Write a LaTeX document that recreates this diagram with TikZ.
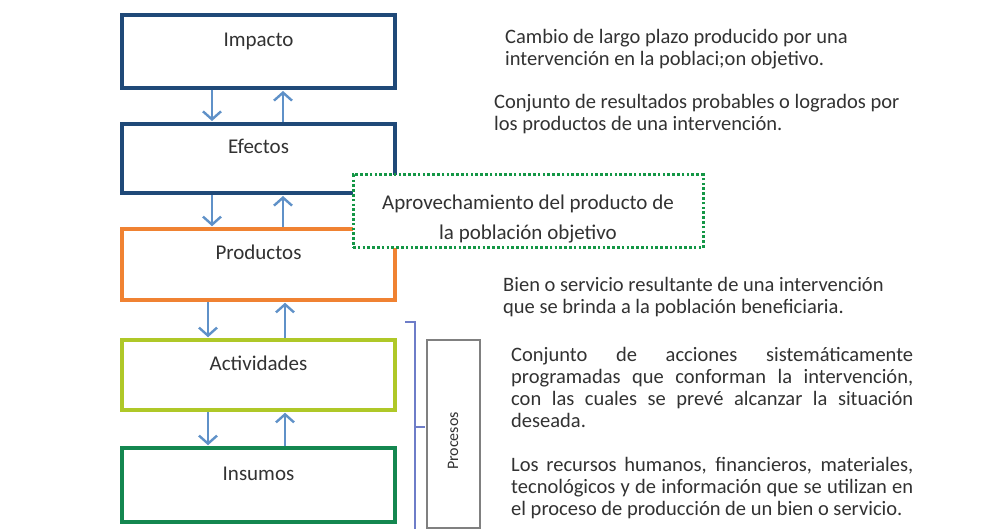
\documentclass[tikz,border=0pt]{standalone}
\usepackage{fontspec}
\setmainfont{Carlito}
\usetikzlibrary{arrows.meta}
\definecolor{navy}{RGB}{31,73,120}
\definecolor{orng}{RGB}{240,130,50}
\definecolor{lime}{RGB}{175,200,40}
\definecolor{grn}{RGB}{20,135,80}
\definecolor{dotgrn}{RGB}{20,150,70}
\definecolor{arrblue}{RGB}{95,145,200}
\definecolor{brk}{RGB}{110,125,200}
\definecolor{txt}{RGB}{50,50,50}
\definecolor{procgray}{RGB}{128,128,128}
\begin{document}
\begin{tikzpicture}[x=1pt,y=-1pt,
  stage/.style={draw, rectangle, fill=white, minimum width=273pt, inner sep=0pt,
    text height=12pt, text depth=22pt, font=\fontsize{21}{22}\selectfont, text=txt},
  arr/.style={draw=arrblue, line width=2.4pt, -{Straight Barb[length=8pt,width=18pt]}, shorten >=1pt},
  desc/.style={anchor=north west, inner sep=0pt, font=\fontsize{20.5}{22}\selectfont, text=txt, align=left},
  jdesc/.style={anchor=north west, inner sep=0pt, font=\fontsize{20.5}{22}\selectfont, text=txt,
    text width=402pt, align=justify},
  note/.style={draw=dotgrn, line width=3pt, dash pattern=on 2.6pt off 2.2pt, fill=white,
    minimum width=350pt, minimum height=73pt, align=center, inner sep=0pt,
    font=\fontsize{21}{30}\selectfont, text=txt}
]
\useasboundingbox[fill=white] (0,0) rectangle (982,529);

% stages
\node[stage, draw=navy, line width=4pt, minimum height=73pt] (imp) at (258.5,51.5) {Impacto};
\node[stage, draw=navy, line width=4pt, minimum height=69pt] (efe) at (258.5,158.5) {Efectos};
\node[stage, draw=orng, line width=3.5pt, minimum height=71pt] (pro) at (258.5,264.5) {Productos};
\node[stage, draw=lime, line width=3.5pt, minimum height=70pt] (act) at (258.5,375) {Actividades};
\node[stage, draw=grn, line width=3.5pt, minimum height=74pt] (ins) at (258.5,485) {Insumos};

% arrow columns
\coordinate (d1) at (212,0);
\coordinate (u1) at (283,0);
\coordinate (d2) at (208,0);
\coordinate (u2) at (285,0);
\draw[arr] (imp.south -| d1) -- (efe.north -| d1);
\draw[arr] (efe.north -| u1) -- (imp.south -| u1);
\draw[arr] (efe.south -| d1) -- (pro.north -| d1);
\draw[arr] (pro.north -| u1) -- (efe.south -| u1);
\draw[arr] (pro.south -| d2) -- (act.north -| d2);
\draw[arr] (act.north -| u2) -- (pro.south -| u2);
\draw[arr] (act.south -| d2) -- (ins.north -| d2);
\draw[arr] (ins.north -| u2) -- (act.south -| u2);

% dotted note
\node[note] (apr) at (528,211.5) {\rule{0pt}{30pt}Aprovechamiento del producto de\\la población objetivo};

% bracket and Procesos
\coordinate (bt0) at (405,322);
\coordinate (bt1) at (415,322);
\coordinate (bb) at (415,531);
\coordinate (bm) at (415,427);
\coordinate (bm1) at (425,427);
\draw[brk, line width=1.3pt] (bt0) -- (bt1) -- (bb);
\draw[brk, line width=1.3pt] (bm) -- (bm1);
\node[draw=procgray, line width=2.5pt, minimum width=53pt, minimum height=188pt, inner sep=0pt] (proc) at (453.5,434) {};
\node[rotate=90, font=\fontsize{16}{18}\selectfont, text=txt, inner sep=0pt] (proclbl) at (453,441) {Procesos};

% descriptions
\node[desc] (t1) at (505,29) {Cambio de largo plazo producido por una\\intervención en la poblaci;on objetivo.};
\node[desc] (t2) at (494,94) {Conjunto de resultados probables o logrados por\\los productos de una intervención.};
\node[desc] (t3) at (503,277) {Bien o servicio resultante de una intervención\\que se brinda a la población beneficiaria.};
\node[jdesc] (t4) at (511,347) {\hyphenpenalty=10000 Conjunto de acciones sistemáticamente\linebreak programadas que conforman la intervención,\linebreak con las cuales se prevé alcanzar la situación\linebreak deseada.};
\node[jdesc] (t5) at (511,457) {\hyphenpenalty=10000 Los recursos humanos, financieros, materiales,\linebreak tecnológicos y de información que se utilizan en\linebreak el proceso de producción de un bien o servicio.};
\end{tikzpicture}
\end{document}
